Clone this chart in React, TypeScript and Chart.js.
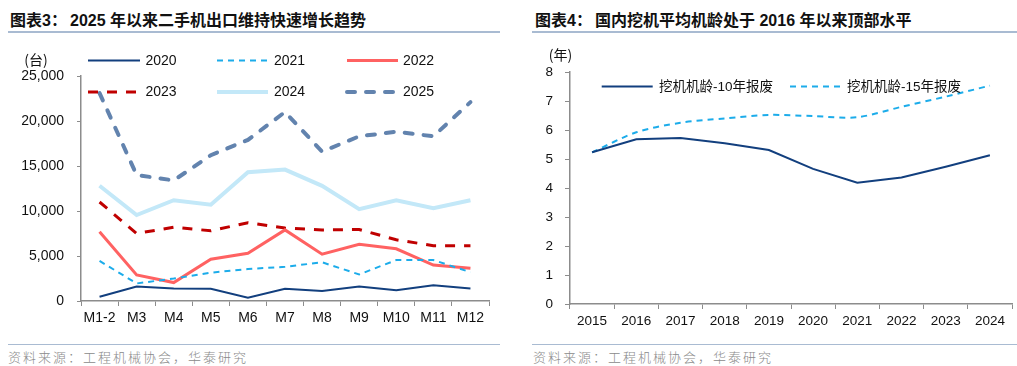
import React, { useEffect, useRef } from "react";
import { Chart, registerables } from "chart.js";
Chart.register(...registerables);

// ---------- data: left chart (二手机出口, 台) ----------
const months = ["M1-2", "M3", "M4", "M5", "M6", "M7", "M8", "M9", "M10", "M11", "M12"];
const s2020 = [480, 1600, 1400, 1350, 370, 1350, 1100, 1600, 1200, 1750, 1400];
const s2021 = [4450, 1950, 2500, 3150, 3550, 3800, 4300, 2950, 4550, 4550, 3200];
const s2022 = [7700, 2900, 2050, 4650, 5300, 7900, 5200, 6300, 5800, 4000, 3650];
const s2023 = [11000, 7500, 8200, 7800, 8700, 8100, 7900, 7950, 6800, 6150, 6150];
const s2024 = [12800, 9550, 11200, 10700, 14300, 14600, 12800, 10200, 11200, 10300, 11200];
const s2025 = [23100, 14000, 13400, 16200, 17900, 21000, 16600, 18300, 18800, 18300, 22100];

// ---------- data: right chart (挖机平均机龄, 年) ----------
const years = ["2015", "2016", "2017", "2018", "2019", "2020", "2021", "2022", "2023", "2024"];
const age10 = [5.23, 5.68, 5.72, 5.54, 5.31, 4.66, 4.18, 4.36, 4.73, 5.13];
const age15 = [5.23, 5.92, 6.25, 6.4, 6.52, 6.48, 6.44, 6.8, 7.15, 7.53];

const LATIN = '"Liberation Sans", Arial, sans-serif';
const CJK = '"Liberation Sans", "Noto Sans CJK SC", sans-serif';
const AXIS = "#8c8c8c";
const RULE = "#a9bbd2";

type LegendItem = { i: number; x0: number; x1: number; tx: number; y: number };

function overlayPlugin(unit: string, ux: number, uy: number, legendFont: string, items: LegendItem[]) {
  return {
    id: "overlay",
    afterDatasetsDraw(chart: any) {
      const ctx = chart.ctx;
      ctx.save();
      ctx.fillStyle = "#111";
      ctx.textBaseline = "middle";
      ctx.textAlign = "center";
      ctx.font = '14px "Noto Sans CJK SC", sans-serif';
      ctx.fillText(unit, ux, uy);
      for (const it of items) {
        const ds = chart.data.datasets[it.i];
        ctx.beginPath();
        ctx.strokeStyle = ds.borderColor;
        ctx.lineWidth = ds.borderWidth;
        ctx.lineCap = ds.borderCapStyle || "butt";
        ctx.setLineDash(ds.borderDash || []);
        ctx.moveTo(it.x0, it.y);
        ctx.lineTo(it.x1, it.y);
        ctx.stroke();
        ctx.setLineDash([]);
        ctx.textAlign = "left";
        ctx.font = legendFont;
        ctx.fillStyle = "#111";
        ctx.fillText(ds.label, it.tx, it.y + 0.5);
      }
      ctx.restore();
    },
  };
}

function axisOpts(
  yw: number,
  xh: number,
  min: number,
  max: number,
  step: number,
  fontSize: number,
  yPad: number,
  yTick: number
) {
  return {
    x: {
      offset: true,
      afterFit: (s: any) => {
        s.height = xh;
      },
      grid: { drawOnChartArea: false, drawTicks: true, tickLength: 5, color: AXIS, offset: true, lineWidth: 1 },
      border: { color: AXIS, width: 1.5 },
      ticks: { color: "#111", font: { family: LATIN, size: fontSize }, padding: 4, maxRotation: 0, autoSkip: false },
    },
    y: {
      min,
      max,
      afterFit: (s: any) => {
        s.width = yw;
      },
      grid: { drawOnChartArea: false, drawTicks: true, tickLength: yTick, color: AXIS, lineWidth: 1 },
      border: { color: AXIS, width: 1.5 },
      ticks: {
        stepSize: step,
        color: "#111",
        font: { family: LATIN, size: fontSize },
        padding: yPad,
        callback: (v: any) => Number(v).toLocaleString("en-US"),
      },
    },
  };
}

function LeftChart() {
  const ref = useRef<HTMLCanvasElement>(null);
  useEffect(() => {
    const items: LegendItem[] = [
      { i: 0, x0: 88, x1: 140, tx: 145.5, y: 60.5 },
      { i: 1, x0: 217, x1: 268, tx: 274, y: 60.5 },
      { i: 2, x0: 347, x1: 398, tx: 403, y: 60.5 },
      { i: 3, x0: 88, x1: 140, tx: 145.5, y: 92 },
      { i: 4, x0: 217, x1: 268, tx: 274, y: 92 },
      { i: 5, x0: 347, x1: 398, tx: 403, y: 92 },
    ];
    const chart = new Chart(ref.current!, {
      type: "line",
      data: {
        labels: months,
        datasets: [
          { label: "2020", data: s2020, borderColor: "#123f7e", borderWidth: 2 },
          { label: "2021", data: s2021, borderColor: "#1cacea", borderWidth: 2, borderDash: [6, 5] },
          { label: "2022", data: s2022, borderColor: "#ff6262", borderWidth: 3 },
          { label: "2023", data: s2023, borderColor: "#c00000", borderWidth: 3, borderDash: [10, 9] },
          { label: "2024", data: s2024, borderColor: "#c3e8f8", borderWidth: 4 },
          { label: "2025", data: s2025, borderColor: "#6283ae", borderWidth: 4, borderDash: [8, 11], borderCapStyle: "round" },
        ].map((d) => ({ ...d, pointRadius: 0, tension: 0, fill: false })) as any,
      },
      options: {
        animation: false,
        responsive: false,
        devicePixelRatio: 1,
        layout: { padding: { left: 0, right: 16, top: 76, bottom: 0 } },
        plugins: { legend: { display: false }, tooltip: { enabled: false } },
        scales: axisOpts(81, 39, 0, 25000, 5000, 14, 13, 4) as any,
      },
      plugins: [overlayPlugin("(台)", 36, 59.5, `14px ${LATIN}`, items)],
    });
    return () => chart.destroy();
  }, []);
  return <canvas ref={ref} width={505} height={340} style={{ position: "absolute", left: 0, top: 0 }} />;
}

function RightChart() {
  const ref = useRef<HTMLCanvasElement>(null);
  useEffect(() => {
    const items: LegendItem[] = [
      { i: 0, x0: 91.7, x1: 142.7, tx: 149, y: 86.5 },
      { i: 1, x0: 280, x1: 330, tx: 337, y: 86.5 },
    ];
    const chart = new Chart(ref.current!, {
      type: "line",
      data: {
        labels: years,
        datasets: [
          { label: "挖机机龄-10年报废", data: age10, borderColor: "#123f7e", borderWidth: 2, tension: 0 },
          { label: "挖机机龄-15年报废", data: age15, borderColor: "#1cacea", borderWidth: 2, borderDash: [6, 5], tension: 0.3 },
        ].map((d) => ({ ...d, pointRadius: 0, fill: false })) as any,
      },
      options: {
        animation: false,
        responsive: false,
        devicePixelRatio: 1,
        layout: { padding: { left: 0, right: 5, top: 72, bottom: 0 } },
        plugins: { legend: { display: false }, tooltip: { enabled: false } },
        scales: axisOpts(60, 36, 0, 8, 1, 13.5, 12, 5) as any,
      },
      plugins: [overlayPlugin("(年)", 50.5, 55, `13.5px ${CJK}`, items)],
    });
    return () => chart.destroy();
  }, []);
  return <canvas ref={ref} width={507} height={340} style={{ position: "absolute", left: 510, top: 0 }} />;
}

function Title({ x, label, text }: { x: number; label: string; text: string }) {
  return (
    <div
      style={{
        position: "absolute",
        left: x,
        top: 10,
        height: 22,
        lineHeight: "22px",
        fontFamily: CJK,
        fontWeight: 700,
        fontSize: 16,
        color: "#111",
        whiteSpace: "nowrap",
      }}
    >
      <span style={{ display: "inline-block", width: 60 }}>{label}</span>
      <span>{text}</span>
    </div>
  );
}

function Rule({ x, w, y }: { x: number; w: number; y: number }) {
  return <div style={{ position: "absolute", left: x, top: y, width: w, height: 1.5, background: RULE }} />;
}

function Source({ x }: { x: number }) {
  return (
    <div
      style={{
        position: "absolute",
        left: x,
        top: 348,
        lineHeight: "18px",
        fontFamily: '"Noto Sans CJK SC", sans-serif',
        fontWeight: 300,
        fontSize: 13,
        letterSpacing: 2,
        color: "#8a8a8a",
        whiteSpace: "nowrap",
      }}
    >
      资料来源：工程机械协会，华泰研究
    </div>
  );
}

export default function App() {
  return (
    <div style={{ position: "absolute", left: 0, top: 0, width: 1017, height: 366, background: "#fff", overflow: "hidden" }}>
      <Title x={10} label="图表3：" text="2025 年以来二手机出口维持快速增长趋势" />
      <Title x={535} label="图表4：" text="国内挖机平均机龄处于 2016 年以来顶部水平" />
      <Rule x={8} w={492} y={31} />
      <Rule x={532} w={485} y={31} />
      <LeftChart />
      <RightChart />
      <Rule x={8} w={492} y={343.5} />
      <Rule x={532} w={485} y={343.5} />
      <Source x={8} />
      <Source x={533} />
    </div>
  );
}
